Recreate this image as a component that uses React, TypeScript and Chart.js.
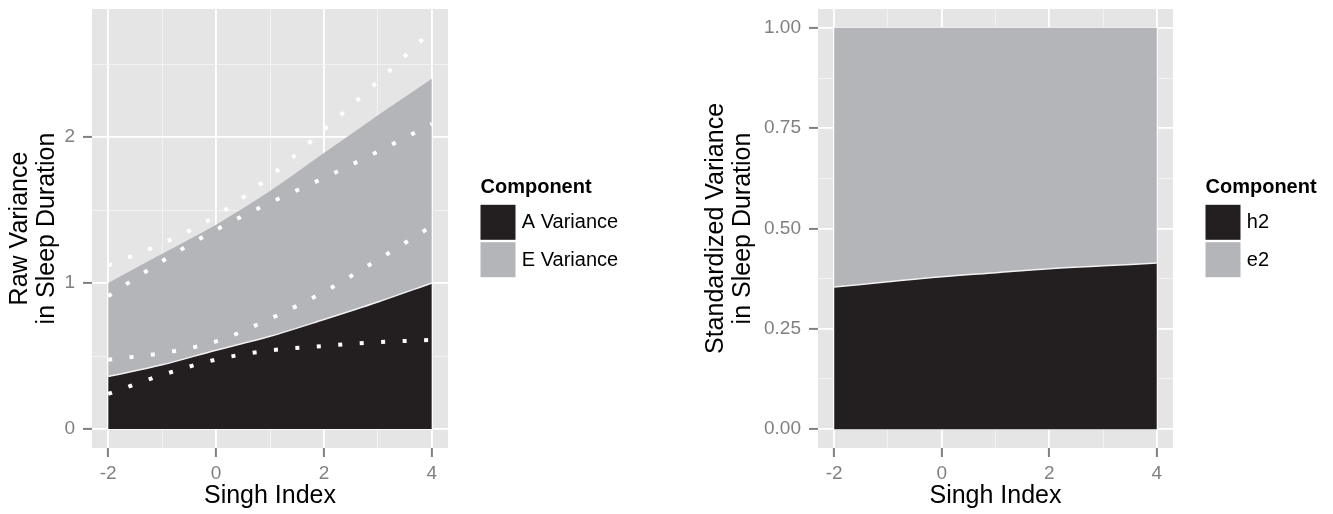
import React, { useEffect, useRef } from 'react';
import { Chart, registerables } from 'chart.js';

Chart.register(...registerables);

// ---------- data ----------
const singhIndex = [-2, -1, 0, 1, 2, 3, 4];

// Raw variance components (stacked areas)
const aVariance = [0.36, 0.44, 0.54, 0.635, 0.75, 0.87, 1.0];
const eVariance = [0.64, 0.76, 0.86, 0.995, 1.14, 1.28, 1.4];

// Dotted confidence lines (white)
const ciUpperTotal = [1.12, 1.27, 1.46, 1.73, 2.05, 2.38, 2.73];
const ciLowerTotal = [0.91, 1.15, 1.365, 1.55, 1.72, 1.9, 2.09];
const ciUpperA = [0.475, 0.52, 0.6, 0.755, 0.94, 1.16, 1.39];
const ciLowerA = [0.24, 0.37, 0.476, 0.538, 0.569, 0.595, 0.61];

// Standardized variance components
const h2 = [0.354, 0.367, 0.38, 0.39, 0.4, 0.407, 0.414];
const e2 = [0.646, 0.633, 0.62, 0.61, 0.6, 0.593, 0.586];

// ticks
const xMajorTicks = [-2, 0, 2, 4];
const xTickLabels = ['-2', '0', '2', '4'];
const xMinorTicks = [-1, 1, 3];
const rawMajorTicks = [0, 1, 2];
const rawTickLabels = ['0', '1', '2'];
const rawMinorTicks = [0.5, 1.5, 2.5];
const stdMajorTicks = [0, 0.25, 0.5, 0.75, 1];
const stdTickLabels = ['0.00', '0.25', '0.50', '0.75', '1.00'];
const stdMinorTicks = [0.125, 0.375, 0.625, 0.875];

const rawLegendLabels = ['A Variance', 'E Variance'];
const stdLegendLabels = ['h2', 'e2'];
const legendTitle = 'Component';
const xTitle = 'Singh Index';
const rawYTitle = ['Raw Variance', 'in Sleep Duration'];
const stdYTitle = ['Standardized Variance', 'in Sleep Duration'];

// ---------- styles ----------
const FONT = '"Liberation Sans", Arial, Helvetica, sans-serif';
const DARK = '#231f20';
const GREY = '#b4b5b8';
const PANEL = '#e5e5e5';
const TICK = '#808080';

const pts = (ys: number[]) => singhIndex.map((x, i) => ({ x, y: ys[i] }));
const sumArr = (a: number[], b: number[]) => a.map((v, i) => v + b[i]);

const panelBg = {
  id: 'panelBg',
  beforeDraw(chart: any) {
    const { ctx, chartArea: a } = chart;
    ctx.save();
    ctx.fillStyle = PANEL;
    ctx.fillRect(a.left, a.top, a.right - a.left, a.bottom - a.top);
    ctx.restore();
  },
};

const ggLegend = {
  id: 'ggLegend',
  afterDraw(chart: any, _args: any, opts: any) {
    if (!opts || !opts.items) return;
    const { ctx, chartArea } = chart;
    const box = 35;
    const gap = 2.4;
    const titleH = 25;
    const n = opts.items.length;
    const total = titleH + n * box + (n - 1) * gap;
    const top = (chartArea.top + chartArea.bottom) / 2 - total / 2;
    const x0 = chartArea.right + 32.5;
    ctx.save();
    ctx.textBaseline = 'middle';
    ctx.textAlign = 'left';
    ctx.fillStyle = '#000';
    ctx.font = `bold 20px ${FONT}`;
    ctx.fillText(opts.title, x0, top + 8);
    ctx.font = `20px ${FONT}`;
    opts.items.forEach((it: any, i: number) => {
      const y = top + titleH + i * (box + gap);
      ctx.fillStyle = it.color;
      ctx.fillRect(x0, y, box, box);
      ctx.fillStyle = '#000';
      ctx.fillText(it.label, x0 + 41.3, y + box / 2 + 0.5);
    });
    ctx.restore();
  },
};

function makeAxis(
  majors: number[],
  labels: string[],
  minors: number[],
  min: number,
  max: number,
  title: string | string[],
  isX: boolean,
  fixedSize: number,
  titlePadTop: number,
) {
  const all = [...majors, ...minors].sort((a, b) => a - b);
  const isMaj = (c: any) => c && c.tick && majors.includes(c.tick.value);
  return {
    type: 'linear',
    position: isX ? 'bottom' : 'left',
    min,
    max,
    afterBuildTicks: (scale: any) => {
      scale.ticks = all.map((v) => ({ value: v }));
    },
    afterFit: (scale: any) => {
      if (isX) scale.height = fixedSize;
      else scale.width = fixedSize;
      scale.paddingTop = 0;
      scale.paddingBottom = 0;
      scale.paddingLeft = 0;
      scale.paddingRight = 0;
    },
    border: { display: false },
    grid: {
      drawOnChartArea: true,
      drawTicks: true,
      tickLength: 9,
      color: (c: any) => (isMaj(c) ? '#ffffff' : '#f3f3f3'),
      lineWidth: (c: any) => (isMaj(c) ? 1.8 : 0.9),
      tickColor: (c: any) => (isMaj(c) ? TICK : 'rgba(0,0,0,0)'),
      tickWidth: (c: any) => (isMaj(c) ? 2 : 1),
    },
    ticks: {
      autoSkip: false,
      maxRotation: 0,
      minRotation: 0,
      padding: isX ? 5 : 8,
      color: TICK,
      font: { family: FONT, size: 19, lineHeight: 1.2 },
      callback: (v: any) => {
        const idx = majors.indexOf(Number(v));
        return idx >= 0 ? labels[idx] : '';
      },
    },
    title: {
      display: true,
      text: title,
      color: '#000',
      font: { family: FONT, size: 25, lineHeight: 1.1 },
      padding: isX ? { top: 0, bottom: 4 } : { top: titlePadTop, bottom: 0 },
    },
  };
}

const areaBase = {
  pointRadius: 0,
  pointHoverRadius: 0,
  cubicInterpolationMode: 'monotone',
};

const dotted = (ys: number[], label: string) => ({
  ...areaBase,
  label,
  data: pts(ys),
  borderColor: '#ffffff',
  borderWidth: 4,
  borderDash: [4, 17.5],
  borderCapStyle: 'butt',
  fill: false,
  order: 0,
});

function rawConfig(): any {
  return {
    type: 'line',
    data: {
      datasets: [
        {
          ...areaBase,
          label: rawLegendLabels[0],
          data: pts(aVariance),
          backgroundColor: DARK,
          borderColor: '#f2f2f2',
          borderWidth: 1.5,
          fill: 'origin',
          order: 2,
        },
        {
          ...areaBase,
          label: rawLegendLabels[1],
          data: pts(sumArr(aVariance, eVariance)),
          backgroundColor: GREY,
          borderColor: 'rgba(0,0,0,0)',
          borderWidth: 1,
          fill: '-1',
          order: 3,
        },
        dotted(ciUpperTotal, 'ci1'),
        dotted(ciLowerTotal, 'ci2'),
        dotted(ciUpperA, 'ci3'),
        dotted(ciLowerA, 'ci4'),
      ],
    },
    options: {
      responsive: false,
      animation: false,
      events: [],
      layout: { padding: { top: 9, left: 0, right: 217, bottom: 0 } },
      scales: {
        x: makeAxis(xMajorTicks, xTickLabels, xMinorTicks, -2.3, 4.3, xTitle, true, 66, 0),
        y: makeAxis(rawMajorTicks, rawTickLabels, rawMinorTicks, -0.13, 2.877, rawYTitle, false, 92, 6),
      },
      plugins: {
        legend: { display: false },
        tooltip: { enabled: false },
        ggLegend: {
          title: legendTitle,
          items: [
            { label: rawLegendLabels[0], color: DARK },
            { label: rawLegendLabels[1], color: GREY },
          ],
        },
      },
    },
    plugins: [panelBg, ggLegend],
  };
}

function stdConfig(): any {
  return {
    type: 'line',
    data: {
      datasets: [
        {
          ...areaBase,
          label: stdLegendLabels[0],
          data: pts(h2),
          backgroundColor: DARK,
          borderColor: '#f2f2f2',
          borderWidth: 1.5,
          fill: 'origin',
          order: 2,
        },
        {
          ...areaBase,
          label: stdLegendLabels[1],
          data: pts(sumArr(h2, e2)),
          backgroundColor: GREY,
          borderColor: 'rgba(0,0,0,0)',
          borderWidth: 1,
          fill: '-1',
          order: 3,
        },
      ],
    },
    options: {
      responsive: false,
      animation: false,
      events: [],
      layout: { padding: { top: 9, left: 0, right: 160, bottom: 0 } },
      scales: {
        x: makeAxis(xMajorTicks, xTickLabels, xMinorTicks, -2.3, 4.3, xTitle, true, 66, 0),
        y: makeAxis(stdMajorTicks, stdTickLabels, stdMinorTicks, -0.047, 1.047, stdYTitle, false, 153, 37),
      },
      plugins: {
        legend: { display: false },
        tooltip: { enabled: false },
        ggLegend: {
          title: legendTitle,
          items: [
            { label: stdLegendLabels[0], color: DARK },
            { label: stdLegendLabels[1], color: GREY },
          ],
        },
      },
    },
    plugins: [panelBg, ggLegend],
  };
}

function ChartPanel({ makeConfig, left, width }: { makeConfig: () => any; left: number; width: number }) {
  const ref = useRef<HTMLCanvasElement>(null);
  useEffect(() => {
    if (!ref.current) return;
    const chart = new Chart(ref.current, makeConfig());
    return () => chart.destroy();
  }, []);
  return (
    <div style={{ position: 'absolute', left, top: 0, width, height: 514 }}>
      <canvas ref={ref} width={width} height={514} style={{ display: 'block', width, height: 514 }} />
    </div>
  );
}

export default function App() {
  return (
    <div style={{ position: 'absolute', left: 0, top: 0, width: 1333, height: 514, background: '#fff' }}>
      <ChartPanel makeConfig={rawConfig} left={0} width={665} />
      <ChartPanel makeConfig={stdConfig} left={665} width={668} />
    </div>
  );
}
